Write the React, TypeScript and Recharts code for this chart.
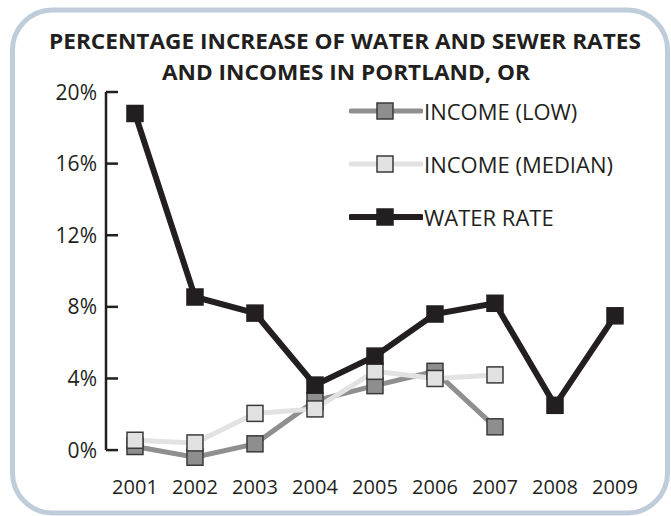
import React from "react";
import {
    LineChart,
    Line,
    XAxis,
    YAxis,
    Legend,
    ReferenceLine,
} from "recharts";

const years = [2001, 2002, 2003, 2004, 2005, 2006, 2007, 2008, 2009];
const incomeLow = [0.2, -0.4, 0.35, 2.75, 3.6, 4.4, 1.3, null, null];
const incomeMedian = [0.55, 0.4, 2.05, 2.3, 4.4, 4.0, 4.2, null, null];
const waterRate = [18.8, 8.55, 7.65, 3.63, 5.25, 7.6, 8.2, 2.5, 7.5];
const yTicks = [0, 4, 8, 12, 16, 20];

const X_MIN = 2000.517;
const X_MAX = 2009.6;

const series = [
    { key: "low", name: "INCOME (LOW)", line: "#8f8f8f", fill: "#8e8e8e", edge: "#3a3a3a", width: 5 },
    { key: "median", name: "INCOME (MEDIAN)", line: "#e2e2e2", fill: "#e1e1e1", edge: "#3a3a3a", width: 5 },
    { key: "water", name: "WATER RATE", line: "#231f20", fill: "#231f20", edge: "#231f20", width: 6 },
];

const data = years.map((year, i) => ({
    year,
    low: incomeLow[i],
    median: incomeMedian[i],
    water: waterRate[i],
}));

const FONT = "'Open Sans', sans-serif";
const INK = "#231f20";

const squareDot = (fill: string, edge: string) => (props: any) => {
    const { cx, cy, index, value } = props;
    if (cx == null || cy == null || value == null) return <g key={index} />;
    return (
        <rect
            key={index}
            x={cx - 8}
            y={cy - 8}
            width={16}
            height={16}
            fill={fill}
            stroke={edge}
            strokeWidth={1.5}
        />
    );
};

const YTick = (props: any) => {
    const { x, y, payload } = props;
    return (
        <g>
            <line x1={x} x2={x + 12} y1={y} y2={y} stroke={INK} strokeWidth={2.5} />
            <text
                x={x - 9}
                y={y}
                dy="0.36em"
                textAnchor="end"
                fontFamily={FONT}
                fontSize={21}
                fill={INK}
            >
                {payload.value}%
            </text>
        </g>
    );
};

const renderLegend = () => (
    <div style={{ fontFamily: FONT }}>
        {series.map((s) => (
            <div
                key={s.key}
                style={{ display: "flex", alignItems: "center", height: 53 }}
            >
                <svg width={74} height={20} style={{ display: "block" }}>
                    <line
                        x1={2}
                        x2={72}
                        y1={10}
                        y2={10}
                        stroke={s.line}
                        strokeWidth={s.width}
                        strokeLinecap="round"
                    />
                    <rect x={28} y={2} width={16} height={16} fill={s.fill} stroke={s.edge} strokeWidth={1.5} />
                </svg>
                <span style={{ fontSize: 22, color: INK, marginLeft: 1, whiteSpace: "nowrap" }}>
                    {s.name}
                </span>
            </div>
        ))}
    </div>
);

export default function App() {
    return (
        <div
            style={{
                position: "fixed",
                left: 0,
                top: 0,
                width: 671,
                height: 516,
                background: "#fff",
            }}
        >
            <svg
                width={671}
                height={516}
                style={{ position: "absolute", left: 0, top: 0 }}
            >
                <rect
                    x={12.5}
                    y={10}
                    width={655}
                    height={503}
                    rx={40}
                    fill="#fff"
                    stroke="#bfcddb"
                    strokeWidth={5}
                />
                <text
                    x={345}
                    y={48.5}
                    textAnchor="middle"
                    fontFamily={FONT}
                    fontWeight={700}
                    fontSize={21}
                    fill={INK}
                    textLength={592}
                    lengthAdjust="spacingAndGlyphs"
                >
                    PERCENTAGE INCREASE OF WATER AND SEWER RATES
                </text>
                <text
                    x={346}
                    y={80}
                    textAnchor="middle"
                    fontFamily={FONT}
                    fontWeight={700}
                    fontSize={21}
                    fill={INK}
                    textLength={368}
                    lengthAdjust="spacingAndGlyphs"
                >
                    AND INCOMES IN PORTLAND, OR
                </text>
            </svg>
            <div style={{ position: "absolute", left: 0, top: 0 }}>
                <LineChart
                    width={671}
                    height={516}
                    data={data}
                    margin={{ top: 92, right: 20, bottom: 18, left: 0 }}
                >
                    <XAxis
                        type="number"
                        dataKey="year"
                        domain={[X_MIN, X_MAX]}
                        ticks={years}
                        interval={0}
                        axisLine={false}
                        tickLine={false}
                        tickSize={0}
                        tickMargin={12}
                        height={30}
                        tick={{ fontFamily: FONT, fontSize: 20, fill: INK }}
                    />
                    <YAxis
                        type="number"
                        domain={[-1, 20]}
                        ticks={yTicks}
                        allowDataOverflow
                        axisLine={false}
                        tickLine={false}
                        tickSize={0}
                        tickMargin={0}
                        width={106}
                        tick={<YTick />}
                    />
                    <ReferenceLine
                        segment={[
                            { x: X_MIN, y: 0 },
                            { x: X_MIN, y: 20 },
                        ]}
                        stroke={INK}
                        strokeWidth={2.5}
                        ifOverflow="visible"
                    />
                    <Legend
                        layout="vertical"
                        align="center"
                        verticalAlign="middle"
                        content={renderLegend}
                        wrapperStyle={{ left: 349, top: 84, width: 300 }}
                    />
                    {series.map((s) => (
                        <Line
                            key={s.key}
                            type="linear"
                            dataKey={s.key}
                            name={s.name}
                            stroke={s.line}
                            strokeWidth={s.width}
                            dot={squareDot(s.fill, s.edge)}
                            activeDot={false}
                            isAnimationActive={false}
                        />
                    ))}
                </LineChart>
            </div>
        </div>
    );
}
